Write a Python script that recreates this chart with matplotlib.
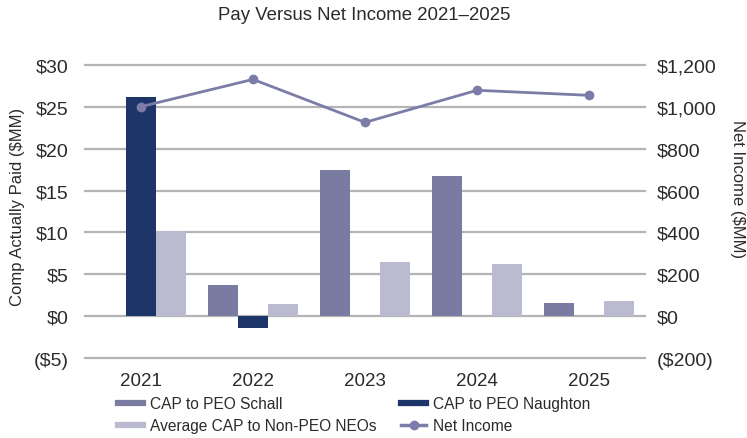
import matplotlib
matplotlib.use("Agg")
import matplotlib.pyplot as plt
from matplotlib.lines import Line2D
import numpy as np

plt.rcParams['font.family'] = ['Liberation Sans', 'DejaVu Sans']

years = ["2021", "2022", "2023", "2024", "2025"]
cap_schall = [0.0, 3.7, 17.4, 16.7, 1.55]
cap_naughton = [26.1, -1.35, 0.0, 0.0, 0.0]
avg_non_peo = [10.2, 1.45, 6.5, 6.3, 1.8]
net_income = [1000, 1130, 925, 1078, 1054]

left_ticks = [-5, 0, 5, 10, 15, 20, 25, 30]
left_labels = ["($5)", "$0", "$5", "$10", "$15", "$20", "$25", "$30"]
right_ticks = [-200, 0, 200, 400, 600, 800, 1000, 1200]
right_labels = ["($200)", "$0", "$200", "$400", "$600", "$800", "$1,000", "$1,200"]

c_schall = "#7a7ba1"
c_naughton = "#1e3569"
c_nonpeo = "#babbd0"
c_line = "#7b7da8"
c_grid = "#b4b4b4"
c_text = "#2b2b2b"

fig = plt.figure(figsize=(7.47, 4.39), dpi=100)
ax = fig.add_axes([85/747, (439-359.3)/439, 560/747, (359.3-65.7)/439])
ax2 = ax.twinx()

x = np.arange(len(years))
w = 0.268
ax.bar(x - w, cap_schall, w, color=c_schall, zorder=3)
ax.bar(x, cap_naughton, w, color=c_naughton, zorder=3)
ax.bar(x + w, avg_non_peo, w, color=c_nonpeo, zorder=3)

ax.set_xlim(-0.5, 4.5)
ax.set_ylim(-5, 30)
ax.set_yticks(left_ticks)
ax.set_yticklabels(left_labels)
ax.set_xticks(x)
ax.set_xticklabels(years)
for t in left_ticks:
    ax.axhline(t, color=c_grid, lw=1.6, zorder=1, clip_on=False)
for s in ax.spines.values():
    s.set_visible(False)
for s in ax2.spines.values():
    s.set_visible(False)
ax.tick_params(axis='y', length=0, labelsize=14, colors=c_text, pad=12)
ax.tick_params(axis='x', length=0, labelsize=13.5, colors=c_text, pad=10)
ax.set_ylabel("Comp Actually Paid ($MM)", fontsize=12, color=c_text, va='center')
ax.yaxis.set_label_coords(-0.121, 0.52)

ax2.plot(x, net_income, color=c_line, lw=2, marker='o', ms=6, zorder=4)
ax2.set_ylim(-200, 1200)
ax2.set_yticks(right_ticks)
ax2.set_yticklabels(right_labels)
ax2.tick_params(axis='y', length=0, labelsize=14, colors=c_text, pad=8.5)
ax2.set_ylabel("Net Income ($MM)", fontsize=12, color=c_text, rotation=-90, va='center')
ax2.yaxis.set_label_coords(1.166, 0.58)
ax.set_zorder(1)
ax2.set_zorder(2)
ax2.patch.set_visible(False)

fig.text(364/747, 1 - 15/439, "Pay Versus Net Income 2021\u20132025", ha='center', va='center',
         fontsize=13.4, color=c_text)

h_schall = Line2D([0], [0], color=c_schall, lw=4.5)
h_naughton = Line2D([0], [0], color=c_naughton, lw=4.5)
h_nonpeo = Line2D([0], [0], color=c_nonpeo, lw=4.5)
h_net = Line2D([0], [0], color=c_line, lw=2.5, marker='o', ms=6)
handles = [h_schall, h_nonpeo, h_naughton, h_net]
labels = ["CAP to PEO Schall", "Average CAP to Non-PEO NEOs", "CAP to PEO Naughton", "Net Income"]
fig.legend(handles, labels, loc='upper left', bbox_to_anchor=(118/747, 1 - 397/439), ncol=2,
           frameon=False, fontsize=11.2, handlelength=1.6, handletextpad=0.45,
           columnspacing=1.6, labelspacing=0.47, borderaxespad=0, borderpad=0,
           labelcolor=c_text)

fig.savefig("out.png", dpi=100)
